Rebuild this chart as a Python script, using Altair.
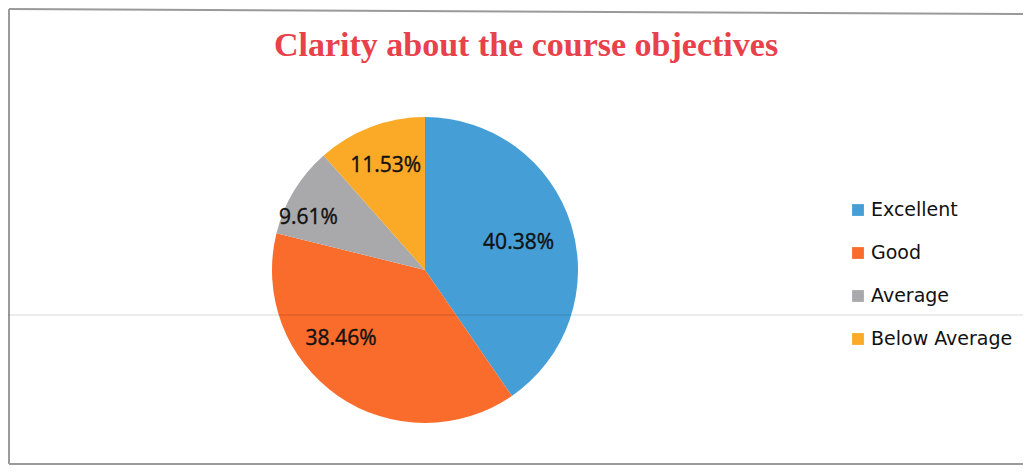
import altair as alt
import pandas as pd

# ---- data ----
title_text = "Clarity about the course objectives"
categories = ["Excellent", "Good", "Average", "Below Average"]
values = [40.38, 38.46, 9.61, 11.53]
labels = ["40.38%", "38.46%", "9.61%", "11.53%"]
colors = ["#459FD6", "#F96C2B", "#A9A9AB", "#FBAA28"]

df = pd.DataFrame({"category": categories, "value": values,
                   "label": labels, "idx": list(range(len(categories)))})

# ---- layout / style ----
W, H = 1015, 457
CX, CY, R = 417, 262, 153
label_style = {  # radius, dx, dy for the in-slice labels
    "Excellent": (98, 0, 2),
    "Good": (109, -22, -21),
    "Average": (128, -7, 14),
    "Below Average": (111, 0, 0),
}

theta_scale = alt.Scale(domain=[0, 1], range=[0, 6.283185307])
color_scale = alt.Scale(domain=categories, range=colors)

base = alt.Chart(df).transform_window(
    cum="sum(value)", sort=[alt.SortField("idx")], frame=[None, 0]
).transform_joinaggregate(total="sum(value)").transform_calculate(
    t0="(datum.cum - datum.value) / datum.total",
    t1="datum.cum / datum.total",
    tm="(datum.cum - datum.value / 2) / datum.total",
)

arcs = base.mark_arc(radius=R).encode(
    theta=alt.Theta("t0:Q", scale=theta_scale, stack=None),
    theta2="t1:Q",
    color=alt.Color("category:N", scale=color_scale, legend=None),
    x=alt.value(CX), y=alt.value(CY),
)

label_layers = []
for c in categories:
    r, dx, dy = label_style[c]
    label_layers.append(
        base.transform_filter(alt.datum.category == c).mark_text(
            radius=r, dx=dx, dy=dy, font="Open Sans", fontSize=21,
            color="#111111", baseline="middle", align="center",
            stroke="#111111", strokeWidth=0.4,
        ).encode(
            theta=alt.Theta("tm:Q", scale=theta_scale, stack=None),
            text="label:N",
            x=alt.value(CX), y=alt.value(CY),
        )
    )

ly = alt.Y("idx:O", scale=alt.Scale(type="point", range=[202, 331], padding=0), axis=None)
legend_sq = alt.Chart(df).mark_square(size=140, opacity=1).encode(
    x=alt.value(850), y=ly,
    color=alt.Color("category:N", scale=color_scale, legend=None),
)
legend_txt = alt.Chart(df).mark_text(
    align="left", baseline="middle", font="DejaVu Sans", fontSize=19, color="#111111"
).encode(x=alt.value(863), y=ly, text="category:N")

title = alt.Chart(pd.DataFrame({"t": [title_text]})).mark_text(
    font="Liberation Serif", fontSize=34, fontWeight="bold", color="#E9414B",
    align="center", baseline="alphabetic",
).encode(text="t:N", x=alt.value(518), y=alt.value(48))

one = pd.DataFrame({"a": [0]})
frame_top = alt.Chart(one).mark_rule(color="#9a9a9a", strokeWidth=2).encode(
    x=alt.value(1), x2=alt.value(W), y=alt.value(1), y2=alt.value(6))
frame_left = alt.Chart(one).mark_rule(color="#9a9a9a", strokeWidth=2).encode(
    x=alt.value(1), x2=alt.value(1), y=alt.value(1), y2=alt.value(H - 1))
frame_bottom = alt.Chart(one).mark_rule(color="#9a9a9a", strokeWidth=2).encode(
    x=alt.value(1), x2=alt.value(W), y=alt.value(H - 1), y2=alt.value(H - 1))
scan_line = alt.Chart(one).mark_rule(color="#000000", opacity=0.15, strokeWidth=1).encode(
    x=alt.value(0), x2=alt.value(W), y=alt.value(307), y2=alt.value(307))

chart = alt.layer(
    arcs, *label_layers, legend_sq, legend_txt, title,
    frame_top, frame_left, frame_bottom, scan_line,
).properties(
    width=W, height=H, padding=0, background="white",
    autosize=alt.AutoSizeParams(type="none"),
).configure_view(stroke=None)

chart.save("out.html", embed_options={"renderer": "svg", "actions": False})
